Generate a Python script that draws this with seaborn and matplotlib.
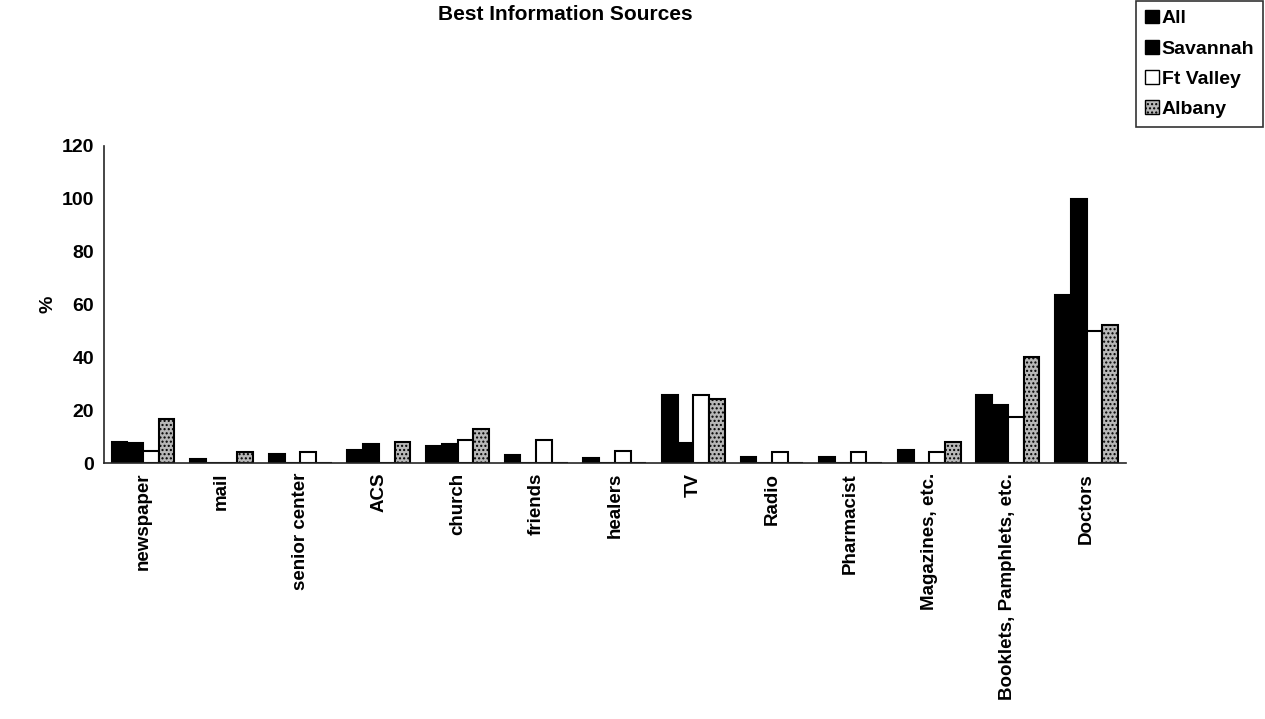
import pandas as pd
import numpy as np
import seaborn as sns
import matplotlib.pyplot as plt
from matplotlib.patches import Patch

sns.set_style("white")
plt.rcParams['font.family'] = ['Liberation Sans', 'DejaVu Sans']
plt.rcParams['font.weight'] = 'bold'
for key in ['text.color', 'axes.labelcolor', 'xtick.color', 'ytick.color']:
    plt.rcParams[key] = 'black'

# Data
categories = ['newspaper', 'mail', 'senior center', 'ACS', 'church', 'friends', 'healers',
              'TV', 'Radio', 'Pharmacist', 'Magazines, etc.', 'Booklets, Pamphlets, etc.', 'Doctors']
all_vals = [8.0, 1.7, 3.5, 5.1, 6.5, 3.2, 2.0, 25.6, 2.1, 2.1, 4.9, 25.8, 63.7]
savannah = [7.4, 0, 0, 7.2, 7.3, 0, 0, 7.4, 0, 0, 0, 21.8, 100.0]
ft_valley = [4.5, 0, 4.3, 0, 8.8, 8.8, 4.5, 25.6, 4.3, 4.3, 4.0, 17.4, 50.1]
albany = [16.5, 4.3, 0, 8.1, 12.8, 0, 0, 24.3, 0, 0, 8.1, 40.0, 52.4]
groups = ['All', 'Savannah', 'Ft Valley', 'Albany']
colors = {'All': 'black', 'Savannah': 'black', 'Ft Valley': 'white', 'Albany': '#b8b8b8'}

df = pd.DataFrame({'source': categories, 'All': all_vals, 'Savannah': savannah,
                   'Ft Valley': ft_valley, 'Albany': albany})
long_df = df.melt(id_vars='source', var_name='site', value_name='pct')

fig = plt.figure(figsize=(12.65, 7.19), dpi=100)
ax = fig.add_axes([0.082, 0.356, 0.808, 0.441])

sns.barplot(data=long_df, x='source', y='pct', hue='site', hue_order=groups,
            order=categories, palette=colors, edgecolor='black', linewidth=1.5,
            width=0.8, ax=ax, legend=False)

# stipple for Albany
for bar in ax.containers[3]:
    bar.set_hatch('....')

ax.set_ylim(0, 120)
ax.set_xlim(-0.5, len(categories) - 0.5)
ax.set_yticks(range(0, 121, 20))
ax.tick_params(axis='y', direction='inout', length=8, width=1, labelsize=14, pad=3)
ax.set_xticks(range(len(categories)))
ax.set_xticklabels(categories, rotation=90, fontsize=13.5, fontweight='bold')
ax.set_xticks(np.arange(-0.5, len(categories), 1), minor=True)
ax.tick_params(axis='x', which='major', length=0, pad=7)
ax.tick_params(axis='x', which='minor', direction='inout', length=8, width=1)
for lab in ax.get_yticklabels():
    lab.set_fontweight('bold')

sns.despine(ax=ax)
ax.spines['left'].set_linewidth(1.2)
ax.spines['bottom'].set_linewidth(1.2)
ax.set_xlabel('')
ax.set_ylabel('%', fontsize=14, fontweight='bold', labelpad=4)

fig.text(565 / 1265, 1 - 14 / 719, 'Best Information Sources', ha='center', va='center',
         fontsize=15, fontweight='bold')

handles = [Patch(facecolor=colors[g], edgecolor='black', hatch='....' if g == 'Albany' else None)
           for g in groups]
leg = fig.legend(handles, groups, loc='upper right', bbox_to_anchor=(1263 / 1265, 1 - 1 / 719),
                 fontsize=14, frameon=True, fancybox=False, edgecolor='black',
                 handlelength=0.7, handleheight=0.7, handletextpad=0.15,
                 labelspacing=0.65, borderpad=0.45, borderaxespad=0)
leg.get_frame().set_linewidth(1.2)
for t in leg.get_texts():
    t.set_fontweight('bold')

fig.savefig('out.png', dpi=100)
